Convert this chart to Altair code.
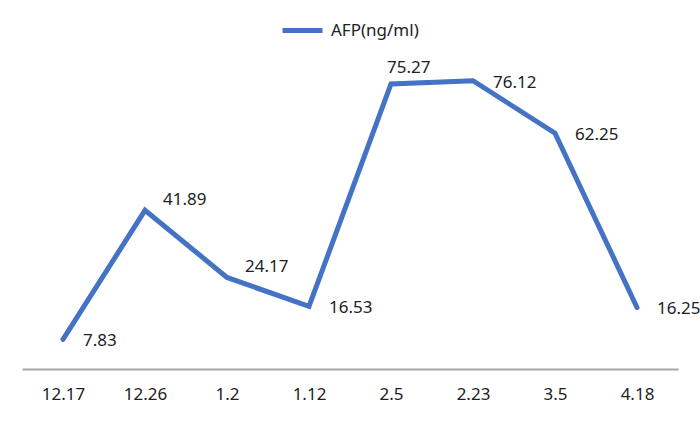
import altair as alt
import pandas as pd

dates = ["12.17", "12.26", "1.2", "1.12", "2.5", "2.23", "3.5", "4.18"]
afp = [7.83, 41.89, 24.17, 16.53, 75.27, 76.12, 62.25, 16.25]
series_name = "AFP(ng/ml)"
label_above = ["2.5"]
label_raised = ["12.26", "1.2"]

df = pd.DataFrame({"date": dates, "value": afp, "series": series_name})
df["label"] = df["value"].map(lambda v: f"{v:.2f}")

FONT = "Noto Sans"
BLUE = "#4472C4"
FS = 17

x = alt.X("date:N", sort=dates, title=None,
          scale=alt.Scale(type="point", padding=0.5),
          axis=alt.Axis(domain=True, domainColor="#A6A6A6", domainWidth=2,
                        ticks=False, grid=False, labelAngle=0,
                        labelFont=FONT, labelFontSize=FS, labelColor="#222222",
                        labelPadding=17))
y = alt.Y("value:Q", title=None, scale=alt.Scale(domain=[0, 80], nice=False, zero=True),
          axis=None)

line = alt.Chart(df).mark_line(strokeWidth=5, strokeCap="round", strokeJoin="miter").encode(
    x=x, y=y,
    color=alt.Color("series:N", scale=alt.Scale(range=[BLUE]),
                    legend=alt.Legend(title=None, orient="none", legendX=258, legendY=-58,
                                      symbolType="stroke", symbolSize=1600,
                                      symbolStrokeWidth=5, labelFont=FONT,
                                      labelFontSize=FS, labelColor="#222222",
                                      labelOffset=6)),
)

base_text = alt.Chart(df).encode(x=x, y=y, text="label:N")

text_right = base_text.transform_filter(
    ~alt.FieldOneOfPredicate(field="date", oneOf=label_above + label_raised)
).mark_text(align="left", baseline="middle", dx=20, dy=2, font=FONT, fontSize=FS, color="#222222")

text_raised = base_text.transform_filter(
    alt.FieldOneOfPredicate(field="date", oneOf=label_raised)
).mark_text(align="left", baseline="middle", dx=18, dy=-10, font=FONT, fontSize=FS, color="#222222")

text_above = base_text.transform_filter(
    alt.FieldOneOfPredicate(field="date", oneOf=label_above)
).mark_text(align="left", baseline="middle", dx=-4, dy=-16, font=FONT, fontSize=FS, color="#222222")

chart = alt.layer(line, text_right, text_raised, text_above).properties(
    width=656, height=303,
    padding={"left": 22, "top": 66, "right": 22, "bottom": 52},
    autosize=alt.AutoSizeParams(type="none"),
    background="white",
).configure_view(stroke=None)

chart.save("out.html", embed_options={"renderer": "svg", "actions": False})
